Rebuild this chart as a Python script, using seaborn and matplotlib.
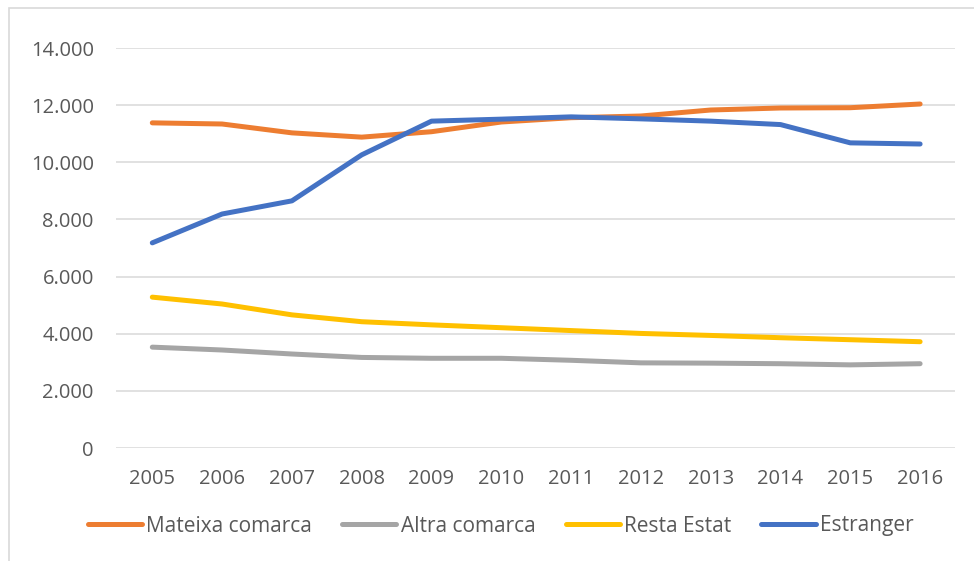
import pandas as pd
import seaborn as sns
from matplotlib import pyplot as plt
from matplotlib.ticker import FuncFormatter
from matplotlib.patches import Rectangle

years = [2005, 2006, 2007, 2008, 2009, 2010, 2011, 2012, 2013, 2014, 2015, 2016]
mateixa = [11380, 11340, 11030, 10880, 11070, 11410, 11560, 11620, 11830, 11900, 11910, 12040]
altra = [3530, 3430, 3290, 3170, 3140, 3140, 3070, 2980, 2970, 2950, 2910, 2950]
resta = [5280, 5040, 4660, 4420, 4310, 4210, 4110, 4010, 3940, 3860, 3790, 3720]
estranger = [7180, 8190, 8650, 10260, 11440, 11510, 11590, 11520, 11440, 11320, 10680, 10640]

series = ['Mateixa comarca', 'Altra comarca', 'Resta Estat', 'Estranger']
colors = ['#ED7D31', '#A5A5A5', '#FFC000', '#4472C4']

df = pd.DataFrame({'year': years, series[0]: mateixa, series[1]: altra,
                   series[2]: resta, series[3]: estranger})
long_df = df.melt(id_vars='year', var_name='serie', value_name='valor')

sns.set_style('white')
plt.rcParams['font.family'] = ['Open Sans', 'DejaVu Sans']

fig = plt.figure(figsize=(9.74, 5.61), dpi=100)
ax = fig.add_axes([116/974, 1-448/561, (955-116)/974, 400/561])

sns.lineplot(data=long_df, x='year', y='valor', hue='serie', hue_order=series,
             palette=colors, linewidth=3.6, ax=ax, legend=False,
             solid_capstyle='round')

ax.set_xlim(2004.48, 2016.5)
ax.set_ylim(0, 14000)
ax.set_yticks(range(0, 14001, 2000))
ax.set_xticks(years)
ax.yaxis.set_major_formatter(FuncFormatter(lambda v, p: f'{int(v):,}'.replace(',', '.')))
ax.grid(axis='y', color='#D9D9D9', linewidth=1.1)
ax.set_axisbelow(True)
for s in ax.spines.values():
    s.set_visible(False)
ax.tick_params(axis='both', length=0, labelsize=14.5, labelcolor='#595959')
ax.tick_params(axis='y', pad=16)
ax.tick_params(axis='x', pad=15)
ax.set_xlabel('')
ax.set_ylabel('')

handles = [plt.Line2D([0], [0], color=c, linewidth=3.6, solid_capstyle='round') for c in colors]
leg = fig.legend(handles, series, loc='center', bbox_to_anchor=(0.514, 1-526/561), ncol=4,
                 frameon=False, fontsize=15, handlelength=2.6, handletextpad=0.2,
                 columnspacing=1.45)
for t in leg.get_texts():
    t.set_color('#595959')

fig.patches.append(Rectangle((9/974, -0.1), 1.2, 1.1 - 7.5/561, transform=fig.transFigure,
                             fill=False, edgecolor='#D9D9D9', linewidth=1.2, clip_on=False))

fig.savefig('out.png', dpi=100)
